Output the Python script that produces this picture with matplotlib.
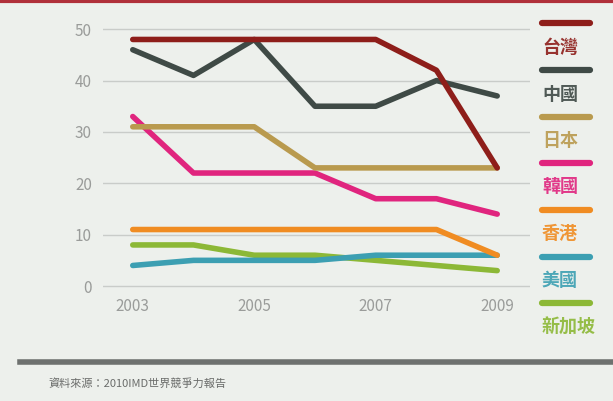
import matplotlib.pyplot as plt
from matplotlib.lines import Line2D

plt.rcParams['font.family'] = ['Noto Sans CJK TC', 'DejaVu Sans']

years = [2003, 2004, 2005, 2006, 2007, 2008, 2009]
taiwan = [48, 48, 48, 48, 48, 42, 23]
china = [46, 41, 48, 35, 35, 40, 37]
japan = [31, 31, 31, 23, 23, 23, 23]
korea = [33, 22, 22, 22, 17, 17, 14]
hongkong = [11, 11, 11, 11, 11, 11, 6]
usa = [4, 5, 5, 5, 6, 6, 6]
singapore = [8, 8, 6, 6, 5, 4, 3]

names = ['台灣', '中國', '日本', '韓國', '香港', '美國', '新加坡']
series = [taiwan, china, japan, korea, hongkong, usa, singapore]
colors = ['#8e1e1a', '#3f4a46', '#b99a4e', '#e0257e', '#f08c22', '#3c9fb2', '#8cb836']

W, H = 613, 401
bg = '#edf0ec'
fig = plt.figure(figsize=(W / 100, H / 100), dpi=100, facecolor=bg)
ax = fig.add_axes([103 / W, 1 - 294 / H, (530 - 103) / W, (294 - 22) / H])
ax.set_facecolor(bg)

# draw from the bottom of the stack upwards so Taiwan sits on top
for vals, c in reversed(list(zip(series, colors))):
    ax.plot(years, vals, color=c, lw=4, solid_capstyle='round', solid_joinstyle='round')

ax.set_xlim(2002.51, 2009.54)
ax.set_ylim(-1.55, 51.4)
ax.set_yticks([0, 10, 20, 30, 40, 50])
ax.set_xticks([2003, 2005, 2007, 2009])
ax.yaxis.grid(True, color='#c9ccc9', lw=1)
ax.set_axisbelow(True)
for s in ax.spines.values():
    s.set_visible(False)
ax.tick_params(length=0, colors='#9a9c9a', labelsize=11)
ax.tick_params(axis='y', pad=8)
ax.tick_params(axis='x', pad=3)

# legend on the right
line_y = [23, 70, 117, 163, 210, 257, 303]
for name, c, ly in zip(names, colors, line_y):
    fig.add_artist(Line2D([542 / W, 590 / W], [1 - ly / H, 1 - ly / H], color=c, lw=4.5,
                          solid_capstyle='round'))
    fig.text(542 / W, 1 - (ly + 24) / H, name, color=c, fontsize=13, fontweight='bold',
             va='center', ha='left', alpha=0.9)

# top banner edge and bottom rule
fig.add_artist(Line2D([0, 1], [1 - 1 / H, 1 - 1 / H], color='#b0303a', lw=3))
fig.add_artist(Line2D([20 / W, 1], [1 - 362 / H, 1 - 362 / H], color='#6e716f', lw=4))
fig.text(48 / W, 1 - 383 / H, '資料來源：2010IMD世界競爭力報告', color='#6a6c6a', fontsize=8,
         va='center', ha='left')

fig.savefig('out.png', dpi=100, facecolor=bg)
